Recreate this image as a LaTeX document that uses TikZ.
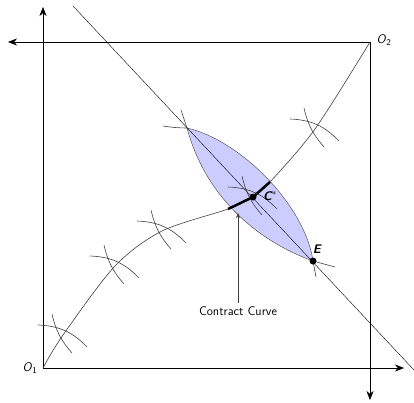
\documentclass[tikz,border=0pt]{standalone}
\usetikzlibrary{arrows.meta}

\newcommand{\ipair}[1]{%
  \draw[indiff] (#1) ++(-25,-10) to[bend left=22] ++(49,22);
  \draw[indiff] (#1) ++(-11,-21) to[bend right=14] ++(20,39);
}

\begin{document}
\begin{tikzpicture}[x=1pt,y=-1pt,font=\sffamily\fontsize{12.5}{15}\selectfont]
\tikzset{
  axis/.style={-{Stealth[length=9pt,width=7pt]},thin},
  indiff/.style={black!75,semithick},
  lens/.style={draw=black!75,fill=blue!20,thin},
  contract/.style={black!75,semithick},
  dot/.style={circle,fill=black,inner sep=0pt,minimum size=7pt},
  pointlabel/.style={font=\sffamily\bfseries\itshape\fontsize{12.5}{15}\selectfont}
}
\useasboundingbox (0,0) rectangle (414,402);

\coordinate (O1) at (43,368);
\coordinate (O2) at (370,42);
\coordinate (Ytip) at (43,7);
\coordinate (Xtip) at (404,368);
\coordinate (Ltip) at (8,42);
\coordinate (Dtip) at (370,400);
\coordinate (T) at (187,128);
\coordinate (P1) at (63,335);
\coordinate (P2) at (115,266);
\coordinate (P3) at (162,231);
\coordinate (P5) at (315,129);
\coordinate (CL) at (228,209);
\coordinate (CR) at (270,182);
\coordinate (D1) at (73,6);
\coordinate (D2) at (414,370);
\coordinate (ccend) at (238,213);

\draw[lens] (T) .. controls (240,140) and (305,205) .. (313,261)
  .. controls (255,240) and (205,195) .. (T) -- cycle;
\draw[indiff] (T) to[bend left=4] (163,126);
\draw[indiff] (T) -- (181,110);
\draw[indiff] (313,261) -- (316,277);
\draw[indiff] (313,261) -- (335,267);

\draw[axis] (O1) -- (Ytip);
\draw[axis] (O1) -- (Xtip);
\draw[axis] (O2) -- (Ltip);
\draw[axis] (O2) -- (Dtip);
\draw (D1) -- (D2);

\draw[contract] plot[smooth] coordinates
  {(O1) (P1) (P2) (P3) (CL) (253,197) (CR) (P5) (O2)};
\draw[line width=2.5pt] (CL) -- (253,197) -- (CR);

\ipair{P1}
\ipair{P2}
\ipair{P3}
\ipair{253,197}
\ipair{P5}

\node[dot] (C) at (253,197) {};
\node[dot] (E) at (313,261) {};
\node[pointlabel] (Clab) at (270,196) {C$^*$};
\node[pointlabel] (Elab) at (317,249) {E};
\node (o1lab) at (30,368) {\textit{O}\textsubscript{1}};
\node (o2lab) at (384,40) {\textit{O}\textsubscript{2}};

\node (cc) at (238,311) {Contract Curve};
\draw[-{Stealth[length=5pt,width=4pt]},black!75] (cc.north) -- (ccend);
\end{tikzpicture}
\end{document}
